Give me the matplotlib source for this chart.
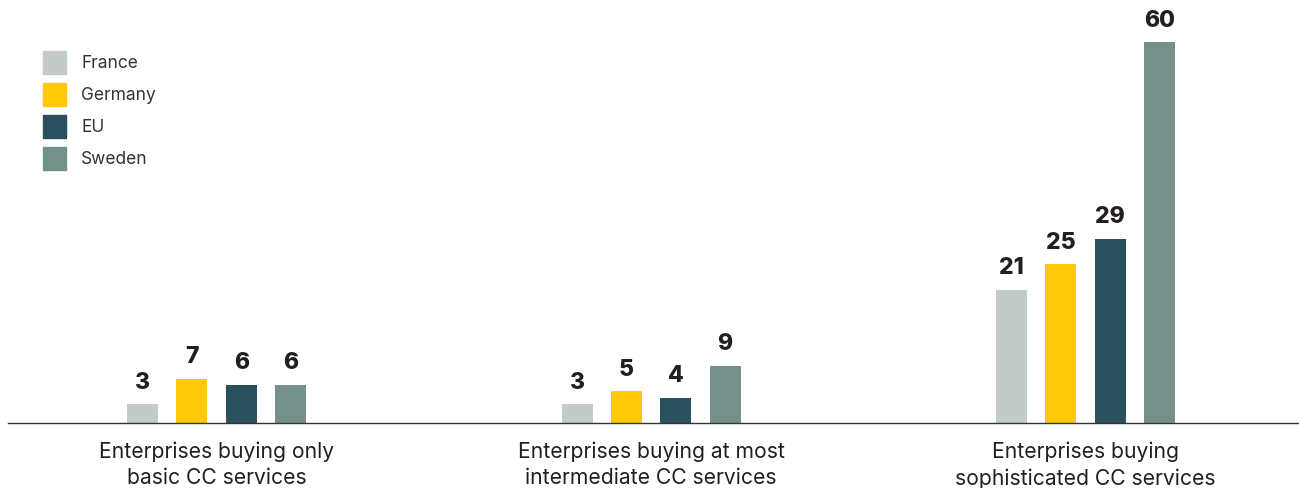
import numpy as np
import matplotlib.pyplot as plt
from matplotlib.patches import Patch

categories = ['Enterprises buying only\nbasic CC services',
              'Enterprises buying at most\nintermediate CC services',
              'Enterprises buying\nsophisticated CC services']
countries = ['France', 'Germany', 'EU', 'Sweden']
france = [3, 3, 21]
germany = [7, 5, 25]
eu = [6, 4, 29]
sweden = [6, 9, 60]
colors = ['#C3CBC8', '#FFC90A', '#2A505D', '#74908A']

plt.rcParams['font.family'] = ['Inter', 'DejaVu Sans']

fig = plt.figure(figsize=(12.99, 4.88), dpi=100)
ax = fig.add_axes([8 / 1299, 65 / 488, 1 - 8 / 1299, 1 - 65 / 488])

x = np.arange(len(categories))
width = 0.0713
step = 0.1135
series = [france, germany, eu, sweden]
for i, (vals, c) in enumerate(zip(series, colors)):
    pos = x + (i - 1.5) * step
    bars = ax.bar(pos, vals, width, color=c)
    for b, v in zip(bars, vals):
        ax.annotate(str(v), (b.get_x() + b.get_width() / 2, v),
                    xytext=(0, 7.5), textcoords='offset points',
                    ha='center', va='bottom', fontsize=16.5, fontweight='heavy',
                    color='#231F20', family=['Inter', 'DejaVu Sans'])

ax.set_xlim(-0.48, 2.491)
ax.set_ylim(0, 66.6)
ax.set_xticks(x)
ax.set_xticklabels(categories, fontsize=15.2, color='#231F20', linespacing=1.42)
ax.tick_params(axis='x', length=0, pad=13)
ax.set_yticks([])
for s in ['top', 'right', 'left']:
    ax.spines[s].set_visible(False)
ax.spines['bottom'].set_color('#333333')
ax.spines['bottom'].set_linewidth(1)

handles = [Patch(color=c, label=n) for n, c in zip(countries, colors)]
fig.legend(handles=handles, loc='upper left', bbox_to_anchor=(43 / 1299, 1 - 51 / 488),
           frameon=False, fontsize=12.5, handlelength=1.35, handleheight=1.65,
           handletextpad=0.86, labelspacing=0.52, borderpad=0, borderaxespad=0,
           labelcolor='#333333')

fig.savefig('out.png', dpi=100)
